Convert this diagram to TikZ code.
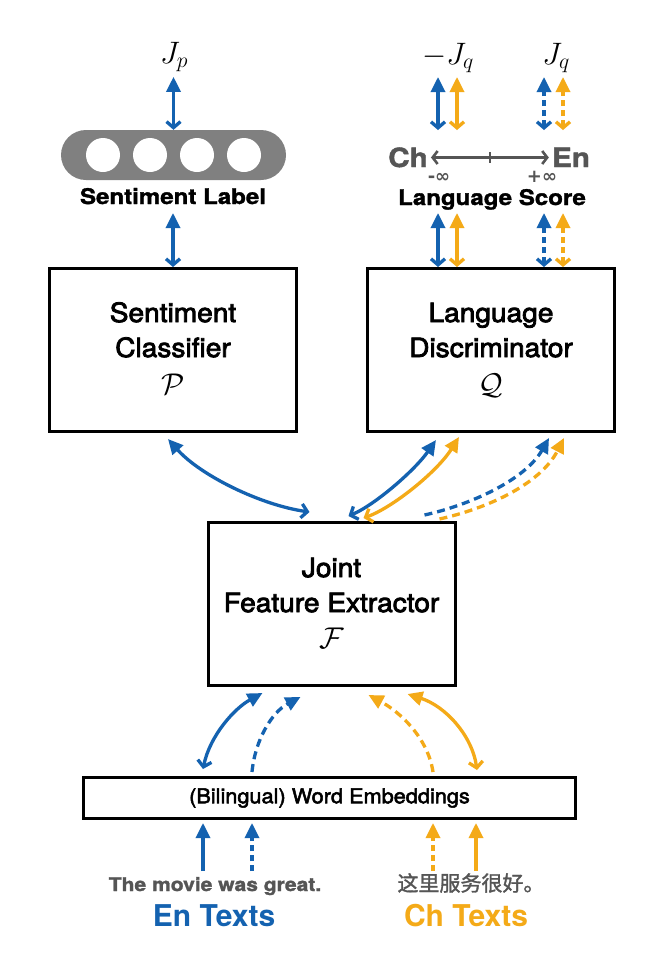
\RequirePackage{fix-cm}
\documentclass[tikz,border=0pt]{standalone}
\usepackage{fontspec}
\setmainfont{TeX Gyre Heros}
\newfontfamily\hvs[FakeStretch=1.12,FakeBold=1.5]{TeX Gyre Heros}
\newfontfamily\hvm[FakeStretch=1.06,FakeBold=3]{TeX Gyre Heros}
\newfontfamily\hvw[FakeStretch=1.06,FakeBold=2.5]{TeX Gyre Heros}
\newfontfamily\djv{DejaVu Sans}
\newfontfamily\cjk[FakeBold=1.5]{Noto Sans CJK SC}
\usetikzlibrary{arrows.meta,calc}
\definecolor{cblue}{RGB}{20,98,176}
\definecolor{corange}{RGB}{244,170,24}
\definecolor{dgray}{RGB}{85,85,85}
\definecolor{pgray}{RGB}{128,128,128}
\begin{document}
\begin{tikzpicture}[x=1pt,y=-1pt,
  box/.style={draw, line width=3pt, minimum width=247pt, minimum height=163pt, inner sep=0pt},
  boxtxt/.style={font=\hvm\fontsize{26.5}{28}\selectfont, anchor=base, inner sep=0pt},
  boxmath/.style={font=\fontsize{30}{32}\selectfont, anchor=base, inner sep=0pt},
  both/.style={line width=3.3pt, {Straight Barb[length=6pt,width=14pt]}-{Triangle[length=15pt,width=14pt]}},
  one/.style={line width=3.3pt, -{Triangle[length=15pt,width=14pt]}},
  dcurve/.style={dash pattern=on 8pt off 5pt},
  dshort/.style={dash pattern=on 6pt off 4pt},
  mathlbl/.style={font=\fontsize{31}{33}\selectfont, anchor=base, inner sep=0pt},
  boldlbl/.style={font=\hvs\bfseries\fontsize{21.5}{24}\selectfont, anchor=base, inner sep=0pt},
  chen/.style={font=\hvs\bfseries\fontsize{26.5}{28}\selectfont, text=dgray, anchor=base, inner sep=0pt},
  infl/.style={font=\djv\bfseries\fontsize{18}{19}\selectfont, text=dgray, anchor=base, inner sep=0pt},
  circ/.style={circle, fill=white, minimum size=34pt, inner sep=0pt}
]
\useasboundingbox[fill=white] (0,0) rectangle (670,962);

% boxes
\node[box] (sc) at (173,350) {};
\node[boxtxt] (sct1) at (173,322) {Sentiment};
\node[boxtxt] (sct2) at (173,357) {Classifier};
\node[boxmath] (sct3) at (173,394) {$\mathcal{P}$};
\node[box] (ld) at (491,350) {};
\node[boxtxt] (ldt1) at (491,322) {Language};
\node[boxtxt] (ldt2) at (491,357) {Discriminator};
\node[boxmath] (ldt3) at (491,394) {$\mathcal{Q}$};
\node[box] (jfe) at (331.5,604) {};
\node[boxtxt] (jft1) at (331.5,577) {Joint};
\node[boxtxt] (jft2) at (331.5,612) {Feature Extractor};
\node[boxmath] (jft3) at (331.5,648) {$\mathcal{F}$};
\node[draw, line width=3pt, minimum width=492pt, minimum height=41pt, inner sep=0pt,
  font=\hvw\fontsize{20.5}{22}\selectfont] (we) at (329.5,798) {(Bilingual) Word Embeddings};

% sentiment label pill
\node[fill=pgray, rounded corners=25pt, minimum width=225pt, minimum height=50pt, inner sep=0pt] (pill) at (173.5,155) {};
\node[circ] (c1) at (103,155) {};
\node[circ] (c2) at (150,155) {};
\node[circ] (c3) at (197,155) {};
\node[circ] (c4) at (244,155) {};
\node[boldlbl] (sl) at (173,204) {Sentiment Label};

% top math labels
\node[mathlbl] (jp) at (174,63) {$J_p$};
\node[mathlbl] (mjq) at (448,64) {$-J_q$};
\node[mathlbl] (jq) at (556,64) {$J_q$};

% language score axis
\node[chen] (ch) at (408,167) {Ch};
\node[chen] (en) at (571,167) {En};
\draw[line width=2.6pt, dgray, {Straight Barb[length=5pt,width=13pt]}-{Straight Barb[length=5pt,width=13pt]}]
  ([xshift=3pt,yshift=9.5pt]ch.base east) -- ([xshift=-3pt,yshift=9.5pt]en.base west);
\draw[line width=2.6pt, dgray] ($(ch.base east)!0.5!(en.base west)+(0,-15)$) -- ++(0,11);
\node[infl] (minf) at (439,182) {-∞};
\node[infl] (pinf) at (542,182) {+∞};
\node[boldlbl] (ls) at (492,205) {Language Score};

% vertical arrows (left)
\draw[both, cblue] (pill.north) -- ++(0,-53);
\draw[both, cblue] (sc.north) -- ++(0,-54);

% vertical arrows (right, upper)
\draw[both, cblue] ($(ld.north)+(-53,-137)$) -- ++(0,-53);
\draw[both, corange] ($(ld.north)+(-34,-137)$) -- ++(0,-53);
\draw[both, cblue, dshort] ($(ld.north)+(53,-137)$) -- ++(0,-53);
\draw[both, corange, dshort] ($(ld.north)+(72,-137)$) -- ++(0,-53);
% vertical arrows (right, lower)
\draw[both, cblue] ($(ld.north)+(-53,0)$) -- ++(0,-54);
\draw[both, corange] ($(ld.north)+(-34,0)$) -- ++(0,-54);
\draw[both, cblue, dshort] ($(ld.north)+(53,0)$) -- ++(0,-54);
\draw[both, corange, dshort] ($(ld.north)+(72,0)$) -- ++(0,-54);

% curves between sc/ld and jfe
\draw[both, cblue] ($(jfe.north west)+(103,-9)$) .. controls (260,505) and (200,475) .. ($(sc.south west)+(120,6)$);
\draw[both, cblue] ($(jfe.north west)+(142,-5)$) .. controls (375,505) and (415,470) .. ($(ld.south west)+(70,7)$);
\draw[both, corange] ($(jfe.north west)+(157,-3)$) .. controls (392,508) and (437,472) .. ($(ld.south west)+(93,4)$);
\draw[one, cblue, dcurve] ($(jfe.north west)+(218,-6)$) .. controls (470,505) and (525,480) .. ($(ld.south west)+(183,5)$);
\draw[one, corange, dcurve] ($(jfe.north west)+(233,-2)$) .. controls (485,509) and (540,485) .. ($(ld.south west)+(198,5)$);

% curves between we and jfe
\draw[both, cblue] ($(we.north west)+(121,-7)$) .. controls (210,735) and (235,708) .. ($(jfe.south west)+(56,6)$);
\draw[one, cblue, dcurve] ($(we.north west)+(170,-4)$) .. controls (255,740) and (272,712) .. ($(jfe.south west)+(94,10)$);
\draw[one, corange, dcurve] ($(we.north west)+(351,-4)$) .. controls (428,738) and (400,712) .. ($(jfe.south west)+(162,8)$);
\draw[both, corange] ($(we.north west)+(395,-6)$) .. controls (472,735) and (445,706) .. ($(jfe.south west)+(201,7)$);

% input texts
\node[font=\hvs\bfseries\fontsize{18.8}{20}\selectfont, text=dgray, anchor=base, inner sep=0pt] (tm) at (215,891) {The movie was great.};
\node[font=\cjk\fontsize{21}{23}\selectfont, text=dgray, anchor=base, inner sep=0pt] (zh) at (471,891) {这里服务很好。};
\node[font=\bfseries\fontsize{30}{32}\selectfont, text=cblue, anchor=base, inner sep=0pt] (ent) at (214,926) {En Texts};
\node[font=\bfseries\fontsize{30}{32}\selectfont, text=corange, anchor=base, inner sep=0pt] (cht) at (466,926) {Ch Texts};

% input arrows
\draw[one, cblue] ($(we.south west)+(121,51)$) -- ($(we.south west)+(121,3)$);
\draw[one, cblue, dshort] ($(we.south west)+(170,51)$) -- ($(we.south west)+(170,3)$);
\draw[one, corange, dshort] ($(we.south west)+(351,51)$) -- ($(we.south west)+(351,3)$);
\draw[one, corange] ($(we.south west)+(394,51)$) -- ($(we.south west)+(394,3)$);
\end{tikzpicture}
\end{document}
